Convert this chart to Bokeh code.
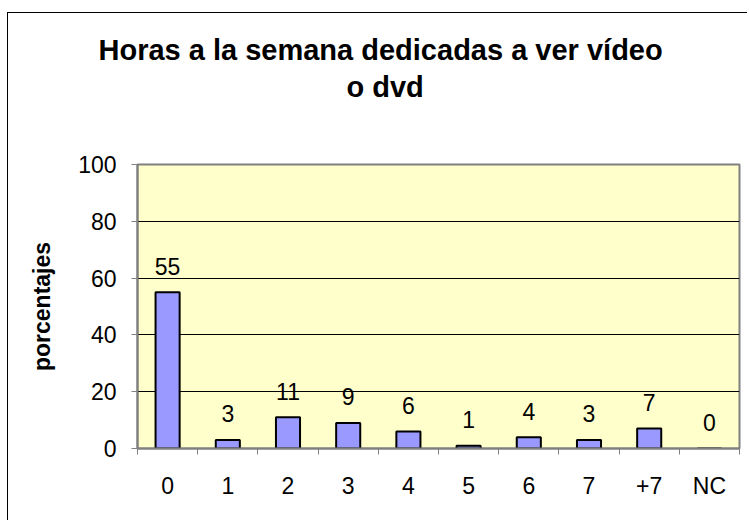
from bokeh.plotting import figure
from bokeh.models import ColumnDataSource, Range1d, FixedTicker, Title
from bokeh.core.properties import value
from bokeh.embed import file_html
from bokeh.resources import INLINE

categories = ["0", "1", "2", "3", "4", "5", "6", "7", "+7", "NC"]
percentages = [55, 3, 11, 9, 6, 1, 4, 3, 7, 0]
y_ticks = [0, 20, 40, 60, 80, 100]
title_lines = ["Horas a la semana dedicadas a ver vídeo", "o dvd"]
y_label = "porcentajes"

FONT = "Liberation Sans"
FS = "23px"
positions = list(range(len(categories)))

src = ColumnDataSource(dict(
    x=positions,
    top=percentages,
    label=[str(v) for v in percentages],
))

p = figure(
    width=740, height=508,
    x_range=Range1d(-0.5, len(categories) - 0.5),
    y_range=Range1d(0, 100),
    output_backend="svg", toolbar_location=None,
    min_border_left=129, min_border_right=9,
    min_border_top=151, min_border_bottom=73,
    background_fill_color="#FFFFCC",
    border_fill_color="white",
    styles={"border-left": "1px solid #000000", "border-top": "1px solid #000000",
            "margin-top": "12px", "margin-left": "7px"},
)
p.outline_line_color = "#808080"
p.outline_line_width = 2

p.vbar(x="x", top="top", width=0.4, bottom=0, source=src,
       fill_color="#9999FF", line_color="black", line_width=2)

p.text(x="x", y="top", text="label", source=src, text_align="center",
       text_baseline="alphabetic", y_offset=-26,
       text_font=value(FONT), text_font_size=FS, text_color="black")

# grid
p.xgrid.grid_line_color = None
p.ygrid.ticker = FixedTicker(ticks=y_ticks[1:-1])
p.ygrid.grid_line_color = "black"
p.ygrid.grid_line_width = 1

# y axis
ya = p.yaxis[0]
ya.ticker = FixedTicker(ticks=y_ticks)
ya.axis_line_color = "#808080"
ya.axis_line_width = 2
ya.major_tick_line_color = "#808080"
ya.major_tick_out = 6
ya.major_tick_in = 0
ya.minor_tick_line_color = None
ya.major_label_text_font = FONT
ya.major_label_text_font_size = FS
ya.major_label_text_color = "black"
ya.major_label_standoff = 15
ya.axis_label = y_label
ya.axis_label_text_font = FONT
ya.axis_label_text_font_size = FS
ya.axis_label_text_font_style = "bold"
ya.axis_label_text_color = "black"
ya.axis_label_standoff = 20

# x axis: labels at centres, ticks at category boundaries
xa = p.xaxis[0]
xa.ticker = FixedTicker(ticks=positions,
                        minor_ticks=[i - 0.5 for i in range(len(categories) + 1)])
xa.major_label_overrides = {i: c for i, c in zip(positions, categories)}
xa.axis_line_color = "#808080"
xa.axis_line_width = 2
xa.major_tick_line_color = None
xa.minor_tick_line_color = "#808080"
xa.minor_tick_out = 6
xa.minor_tick_in = 0
xa.major_label_text_font = FONT
xa.major_label_text_font_size = FS
xa.major_label_text_color = "black"
xa.major_label_standoff = 18

# title: line 2 nearest the frame (with bottom padding), then line 1
p.add_layout(Title(text=title_lines[1], align="left", offset=209, standoff=4,
                   padding=(0, 0, 0, 60),
                   text_font=FONT, text_font_size="29px", text_font_style="bold",
                   text_color="black"), "above")
p.add_layout(Title(text=title_lines[0], align="left", offset=-39, standoff=2,
                   text_font=FONT, text_font_size="29px", text_font_style="bold",
                   text_color="black"), "above")

open("out.html", "w").write(file_html(p, INLINE))
